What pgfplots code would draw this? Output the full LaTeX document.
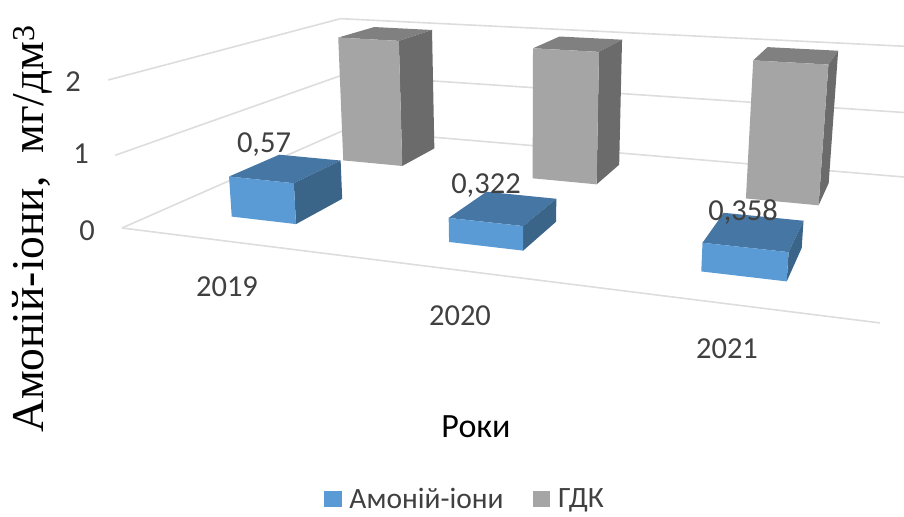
\documentclass[border=0pt]{standalone}
\usepackage{pgfplots}
\pgfplotsset{compat=1.18}
\usepackage{fontspec}
\setmainfont{Carlito}
\newfontfamily\serifaxis{Liberation Serif}
\definecolor{gridc}{HTML}{DDDDDD}
\definecolor{blueF}{HTML}{5B9BD5}
\definecolor{blueS}{HTML}{3A6488}
\definecolor{blueT}{HTML}{4676A3}
\definecolor{grayF}{HTML}{A5A5A5}
\definecolor{grayS}{HTML}{6B6B6B}
\definecolor{grayT}{HTML}{808080}
\definecolor{txt}{HTML}{404040}

% world coordinates: u along the years (0..1), v in depth (0..1), w = value
\newcommand\face[1]{%
  \addplot[forget plot,#1] table[row sep=\\,
    x expr={px(\thisrow{u},\thisrow{v},\thisrow{w})},
    y expr={py(\thisrow{u},\thisrow{v},\thisrow{w})}]}
% cuboid: u0 u1 v0 v1 value, colours front side top
\newcommand\cuboid[8]{%
  \face{fill=#8,draw=none}{u v w\\ #1 #3 #5\\ #2 #3 #5\\ #2 #4 #5\\ #1 #4 #5\\};
  \face{fill=#7,draw=none}{u v w\\ #2 #3 0\\ #2 #4 0\\ #2 #4 #5\\ #2 #3 #5\\};
  \face{fill=#6,draw=none}{u v w\\ #1 #3 0\\ #2 #3 0\\ #2 #3 #5\\ #1 #3 #5\\};
}
\newcommand\gridline[6]{%
  \face{draw=gridc,line width=1.6bp}{u v w\\ #1 #2 #3\\ #4 #5 #6\\};
}

\begin{document}
\begin{tikzpicture}
\useasboundingbox (0,0) rectangle (904bp,517bp);
\begin{axis}[
  at={(0,0)},anchor=south west,
  scale only axis,width=904bp,height=517bp,
  xmin=0,xmax=904,ymin=0,ymax=517,y dir=reverse,
  hide axis,clip mode=individual,
  declare function={
    den(\u,\v,\w)=1-0.2082*\u+0.3512*\v-0.01674*\w;
    px(\u,\v,\w)=(122+574.8*\u+344.2*\v-8.7*\w)/den(\u,\v,\w);
    py(\u,\v,\w)=(228+27.7*\u-52.7*\v-75.35*\w)/den(\u,\v,\w);
  },
  legend style={at={(axis cs:324,512)},anchor=south west,draw=none,fill=none,
    legend columns=2,font=\fontsize{29.5bp}{29.5bp}\selectfont,text=txt,
    inner sep=0pt,outer sep=0pt,
    /tikz/every even column/.style={column sep=27bp},
    /tikz/every odd column/.style={column sep=6bp}},
  legend image code/.code={\fill[#1,draw=none] (0cm,-8bp) rectangle (17.5bp,8bp);},
]
% walls and floor
\gridline{0}{0}{0}{1}{0}{0}
\gridline{0}{0}{0}{0}{1}{0}
\gridline{0}{0}{1}{0}{1}{1}
\gridline{0}{0}{2}{0}{1}{2}
\gridline{0}{1}{0}{1}{1}{0}
\gridline{0}{1}{1}{1}{1}{1}
\gridline{0}{1}{2}{1}{1}{2}
% limit series (rear row)
\cuboid{0.107}{0.216}{0.68}{0.88}{2}{grayF}{grayS}{grayT}
\cuboid{0.443}{0.548}{0.68}{0.88}{2}{grayF}{grayS}{grayT}
\cuboid{0.778}{0.883}{0.68}{0.88}{2}{grayF}{grayS}{grayT}
% ammonium series (front row)
\cuboid{0.112}{0.216}{0.152}{0.36}{0.57}{blueF}{blueS}{blueT}
\cuboid{0.447}{0.551}{0.152}{0.36}{0.322}{blueF}{blueS}{blueT}
\cuboid{0.783}{0.886}{0.152}{0.36}{0.358}{blueF}{blueS}{blueT}

\addlegendimage{fill=blueF}\addlegendentry{Амоній-іони}
\addlegendimage{fill=grayF}\addlegendentry{ГДК}

\begin{scope}[every node/.style={font=\fontsize{30.5bp}{30.5bp}\selectfont,text=txt,inner sep=0pt}]
\node at (axis cs:264,145) {0,57};
\node at (axis cs:486,186) {0,322};
\node at (axis cs:743,212) {0,358};
\node at (axis cs:227,287) {2019};
\node at (axis cs:460,316) {2020};
\node at (axis cs:727,349) {2021};
\node at (axis cs:87,231) {0};
\node at (axis cs:81,154) {1};
\node at (axis cs:73,82) {2};
\node[text=black,font=\fontsize{34bp}{34bp}\selectfont] at (axis cs:476,427) {Роки};
\end{scope}
\node[rotate=90,inner sep=0pt,font=\serifaxis\fontsize{45.5bp}{45.5bp}\selectfont,text=black]
  at (axis cs:32,229) {Амоній-іони,\ \ мг/дм\textsuperscript{3}};
\end{axis}
\end{tikzpicture}
\end{document}
